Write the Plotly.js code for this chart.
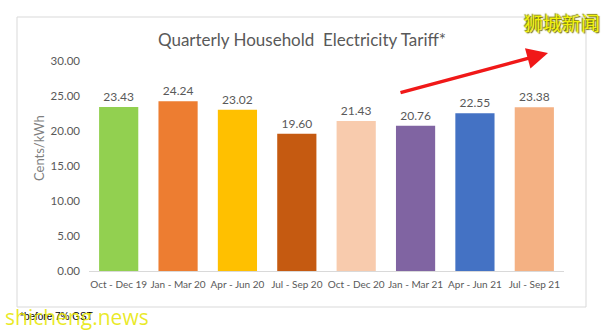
<!DOCTYPE html>
<html><head><meta charset="utf-8">
<script src="https://cdn.plot.ly/plotly-3.0.1.min.js"></script>
<style>html,body{margin:0;padding:0;background:#fff;}#chart{width:604px;height:331px;}</style>
</head><body><div id="chart"></div>
<script>
const categories = ["Oct - Dec 19","Jan - Mar 20","Apr - Jun 20","Jul - Sep 20","Oct - Dec 20","Jan - Mar 21","Apr - Jun 21","Jul - Sep 21"];
const tariff = [23.43, 24.24, 23.02, 19.60, 21.43, 20.76, 22.55, 23.38];
const barColors = ["#92D050","#ED7D31","#FFC000","#C55A11","#F8CBAD","#8064A2","#4472C4","#F4B183"];
const yTicks = [0,5,10,15,20,25,30];

const W=604,H=331,L=89,R=40,T=61,B=60;
const pw=W-L-R, ph=H-T-B;
const px = x => (x-L)/pw;
const py = y => 1-(y-T)/ph;
const font = "Lato, 'Open Sans', sans-serif";
const gray = "#595959";

const trace = {
  type:'bar', x:categories, y:tariff,
  marker:{color:barColors},
  text:tariff.map(v=>v.toFixed(2)), textposition:'outside',
  textfont:{family:font,size:12,color:gray},
  cliponaxis:false, hoverinfo:'none'
};

const layout = {
  width:W,height:H,
  margin:{l:L,r:R,t:T,b:B},
  paper_bgcolor:'#fff',plot_bgcolor:'#fff',
  showlegend:false,
  bargap:0.34,
  font:{family:font,color:gray},
  title:{text:"Quarterly Household  Electricity Tariff*",font:{family:font,size:17,color:gray},
         x:302/W,xref:'container',xanchor:'center',y:1-(40/H),yref:'container',yanchor:'middle'},
  xaxis:{type:'category',showgrid:false,showline:true,linecolor:'#D9D9D9',linewidth:1,
         ticks:'',tickangle:0,tickfont:{family:font,size:10,color:gray},zeroline:false,ticklabelstandoff:4},
  yaxis:{range:[0,30],tickvals:yTicks,ticktext:yTicks.map(v=>v.toFixed(2)),showgrid:false,
         showline:false,zeroline:false,ticks:'',ticklabelstandoff:8,
         tickfont:{family:font,size:11.5,color:gray}},
  shapes:[{type:'rect',xref:'paper',yref:'paper',x0:px(17),x1:px(586),y0:py(307),y1:py(17),
           line:{color:'#D9D9D9',width:1},fillcolor:'rgba(0,0,0,0)',layer:'below'}],
  annotations:[
    {text:"Cents/kWh",xref:'paper',yref:'paper',x:px(39),y:py(148),textangle:-90,showarrow:false,
     font:{family:font,size:13,color:'#7f7f7f'},xanchor:'center',yanchor:'middle'},
    {xref:'paper',yref:'paper',x:px(548),y:py(53),ax:px(399),ay:py(93),axref:'paper',ayref:'paper',
     showarrow:true,arrowhead:2,arrowsize:1.2,arrowwidth:3.5,arrowcolor:'#F01818',text:''},
    {text:"*before 7% GST",xref:'paper',yref:'paper',x:px(18),y:py(316),xanchor:'left',yanchor:'middle',
     showarrow:false,font:{family:"'Liberation Sans', sans-serif",size:10,color:'#000'}},
    {text:"shicheng.news",xref:'paper',yref:'paper',x:px(3),y:py(317),xanchor:'left',yanchor:'middle',
     showarrow:false,font:{family:"'Open Sans', sans-serif",size:21,color:'rgba(230,230,0,0.85)'}},
    {text:"狮城新闻",xref:'paper',yref:'paper',x:px(602),y:py(22),xanchor:'right',yanchor:'middle',
     showarrow:false,font:{family:"'Noto Sans CJK SC', sans-serif",size:19,color:'#F2F20A',
     shadow:'1px 1px 1px #6b6b00, -1px -1px 1px #8a8a00'}}
  ]
};
Plotly.newPlot('chart',[trace],layout,{staticPlot:true,displayModeBar:false});
</script></body></html>
